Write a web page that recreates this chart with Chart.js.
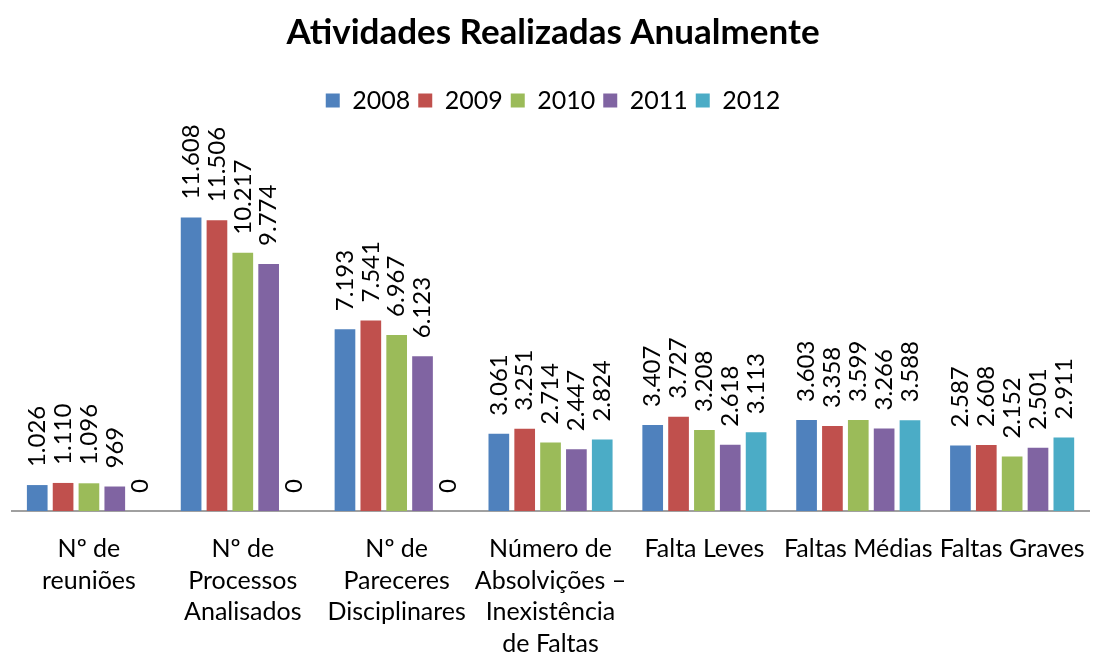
<!DOCTYPE html>
<html>
<head>
<meta charset="utf-8">
<script src="https://cdn.jsdelivr.net/npm/chart.js@4.4.0/dist/chart.umd.min.js"></script>
<style>
html,body{margin:0;padding:0;background:#fff;}
#wrap{width:1099px;height:666px;position:relative;}
</style>
</head>
<body>
<div id="wrap"><canvas id="c" width="1099" height="666"></canvas></div>
<script>
const categories = [
  ["Nº de","reuniões"],
  ["Nº de","Processos","Analisados"],
  ["Nº de","Pareceres","Disciplinares"],
  ["Número de","Absolvições –","Inexistência","de Faltas"],
  "Falta Leves",
  "Faltas Médias",
  "Faltas Graves"
];
const seriesNames = ["2008","2009","2010","2011","2012"];
const v2008 = [1026, 11608, 7193, 3061, 3407, 3603, 2587];
const v2009 = [1110, 11506, 7541, 3251, 3727, 3358, 2608];
const v2010 = [1096, 10217, 6967, 2714, 3208, 3599, 2152];
const v2011 = [969, 9774, 6123, 2447, 2618, 3266, 2501];
const v2012 = [0, 0, 0, 2824, 3113, 3588, 2911];
const colors = ["#4F81BD","#C0504D","#9BBB59","#8064A2","#4BACC6"];
const allValues = [v2008, v2009, v2010, v2011, v2012];

function fmt(n){ return String(n).replace(/\B(?=(\d{3})+(?!\d))/g, "."); }

const labelPlugin = {
  id: 'rotLabels',
  afterDatasetsDraw(chart){
    const ctx = chart.ctx;
    ctx.save();
    ctx.font = '24px Lato';
    ctx.fillStyle = '#000';
    ctx.textAlign = 'left';
    ctx.textBaseline = 'middle';
    chart.data.datasets.forEach((ds, i) => {
      const meta = chart.getDatasetMeta(i);
      meta.data.forEach((bar, j) => {
        ctx.save();
        ctx.translate(bar.x, bar.y - 18);
        ctx.rotate(-Math.PI/2);
        ctx.fillText(fmt(ds.data[j]), 0, 0);
        ctx.restore();
      });
    });
    ctx.restore();
  }
};

new Chart(document.getElementById('c'), {
  type: 'bar',
  data: {
    labels: categories,
    datasets: seriesNames.map((n, i) => ({
      label: n,
      data: allValues[i],
      backgroundColor: colors[i],
      categoryPercentage: 0.84,
      barPercentage: 0.8
    }))
  },
  options: {
    responsive: false,
    animation: false,
    layout: { padding: { left: 12, right: 5, top: 12, bottom: 0 } },
    plugins: {
      title: {
        display: true,
        text: 'Atividades Realizadas Anualmente',
        color: '#000',
        font: { family: 'Lato', size: 35, weight: 'bold' },
        padding: { top: 0, bottom: 26 }
      },
      legend: {
        position: 'top',
        labels: {
          color: '#000',
          font: { family: 'Lato', size: 25 },
          boxWidth: 14, boxHeight: 14,
          padding: 8
        }
      },
      tooltip: { enabled: false }
    },
    scales: {
      y: { display: false, min: 0, max: 15350 },
      x: {
        grid: { display: false },
        border: { display: true, color: '#A0A0A0', width: 2 },
        afterFit(scale){ scale.height -= 8; },
        ticks: {
          color: '#000',
          font: { family: 'Lato', size: 25, lineHeight: 1.27 },
          padding: 14,
          maxRotation: 0, autoSkip: false
        }
      }
    }
  },
  plugins: [labelPlugin]
});
</script>
</body>
</html>
